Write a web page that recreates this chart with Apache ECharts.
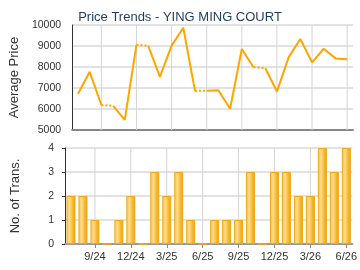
<!DOCTYPE html>
<html>
<head>
<meta charset="utf-8">
<script src="https://cdn.jsdelivr.net/npm/echarts@6/dist/echarts.min.js"></script>
<style>html,body{margin:0;padding:0;background:#fff}#c{width:360px;height:270px}</style>
</head>
<body>
<div id="c"></div>
<script>
var months = ['7/24','8/24','9/24','10/24','11/24','12/24','1/25','2/25','3/25','4/25','5/25','6/25','7/25','8/25','9/25','10/25','11/25','12/25','1/26','2/26','3/26','4/26','5/26','6/26'];
var tickLabels = ['9/24','12/24','3/25','6/25','9/25','12/25','3/26','6/26'];
var avgPrice = [6710, 7770, 6190, 6150, 5480, 9050, 9020, 7530, 9020, 9870, 6860, 6870, 6890, 6010, 8860, 7990, 7950, 6830, 8460, 9330, 8220, 8870, 8410, 8370];
var transCount = [2, 2, 1, 0, 1, 2, 0, 3, 2, 3, 1, 0, 1, 1, 1, 3, 0, 3, 3, 2, 2, 4, 3, 4];
var priceMin = 5000, priceMax = 10000, countMax = 4;

var chart = echarts.init(document.getElementById('c'));
var lineColor = '#ffa500';
var n = months.length;
var font = 'Liberation Sans, Arial, sans-serif';

// vertical grid lines at labelled months: thin bars on hidden copies of the category axis
function gridBars(xi, yi, top) {
  return {type:'bar', xAxisIndex:xi, yAxisIndex:yi, silent:true, z:1, barWidth:1, animation:false,
    data:months.map(function (m) { return tickLabels.indexOf(m) >= 0 ? top : '-'; }),
    itemStyle:{color:'#d4d4d4'}};
}

var series = [gridBars(2, 0, priceMax), gridBars(3, 1, countMax)];
var dotted = new Array(n).fill(null);
var run = [];
function flushRun() {
  if (run.length > 1) {
    var d = new Array(n).fill(null);
    run.forEach(function (i) { d[i] = avgPrice[i]; });
    series.push({type:'line', xAxisIndex:0, yAxisIndex:0, data:d, symbol:'none', connectNulls:false,
      lineStyle:{color:lineColor, width:2}, itemStyle:{color:lineColor}, z:3, animation:false});
  }
  run = [];
}
for (var i = 0; i < n; i++) {
  if (i > 0 && transCount[i] === 0) {
    flushRun();
    dotted[i - 1] = avgPrice[i - 1];
    dotted[i] = avgPrice[i];
    run = [i];
  } else {
    run.push(i);
  }
}
flushRun();
series.push({type:'line', xAxisIndex:0, yAxisIndex:0, data:dotted, symbol:'none', connectNulls:false,
  lineStyle:{color:lineColor, width:2, type:[2,2]}, z:3, animation:false});

series.push({type:'bar', xAxisIndex:1, yAxisIndex:1, data:transCount, barWidth:9, z:3, animation:false,
  itemStyle:{
    color:new echarts.graphic.LinearGradient(0,0,1,0,[
      {offset:0, color:'#fbc654'},
      {offset:0.35, color:'#ffdb8e'},
      {offset:0.7, color:'#f7b830'},
      {offset:1, color:'#eb9e08'}
    ]),
    borderColor:'#f2a812', borderWidth:1
  }});

var showTick = function (idx, val) { return tickLabels.indexOf(val) >= 0; };
function hiddenX(g) {
  return {type:'category', gridIndex:g, data:months, boundaryGap:true, show:false};
}

chart.setOption({
  backgroundColor:'#fff',
  animation:false,
  title:{text:'Price Trends - YING MING COURT', left:'center', top:6,
    textStyle:{color:'#1f3b5c', fontSize:13, fontWeight:'normal', fontFamily:font}},
  grid:[
    {left:65, right:7, top:25, height:105},
    {left:65, right:7, top:148, height:96}
  ],
  xAxis:[
    {type:'category', gridIndex:0, data:months, boundaryGap:true,
      axisLine:{lineStyle:{color:'#888', width:2}}, axisTick:{show:false},
      axisLabel:{show:false}, splitLine:{show:false}},
    {type:'category', gridIndex:1, data:months, boundaryGap:true,
      axisLine:{lineStyle:{color:'#999', width:2}},
      axisTick:{show:true, alignWithLabel:true, interval:showTick, length:4, lineStyle:{color:'#888'}},
      axisLabel:{interval:showTick, margin:7, color:'#333', fontSize:11, fontFamily:font},
      splitLine:{show:false}},
    hiddenX(0),
    hiddenX(1)
  ],
  yAxis:[
    {type:'value', gridIndex:0, min:priceMin, max:priceMax, interval:1000,
      name:'Average Price', nameLocation:'middle', nameGap:43,
      nameTextStyle:{color:'#333', fontSize:13, fontFamily:font},
      axisLine:{show:true, lineStyle:{color:'#333'}}, axisTick:{show:false},
      axisLabel:{margin:11, color:'#333', fontSize:10.5, fontFamily:font, formatter:function (v) { return String(v); }},
      splitLine:{lineStyle:{color:'#e2e2e2', width:2}}},
    {type:'value', gridIndex:1, min:0, max:countMax, interval:1,
      name:'No. of Trans.', nameLocation:'middle', nameGap:43,
      nameTextStyle:{color:'#333', fontSize:13, fontFamily:font},
      axisLine:{show:true, lineStyle:{color:'#333'}}, axisTick:{show:true, length:3, lineStyle:{color:'#333'}},
      axisLabel:{margin:11, color:'#333', fontSize:10.5, fontFamily:font},
      splitLine:{lineStyle:{color:'#e2e2e2', width:2}}}
  ],
  series:series
});
</script>
</body>
</html>
